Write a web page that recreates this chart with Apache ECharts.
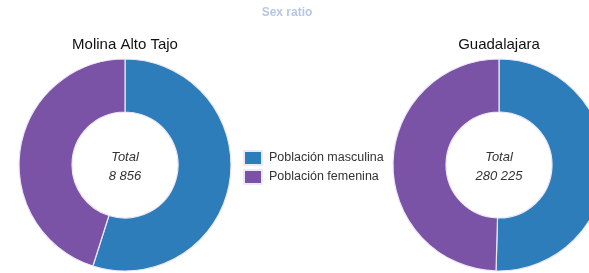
<!DOCTYPE html>
<html>
<head>
<meta charset="utf-8">
<script src="https://cdn.jsdelivr.net/npm/echarts@6/dist/echarts.min.js"></script>
<style>html,body{margin:0;padding:0;background:#fff}#c{width:589px;height:273px}</style>
</head>
<body>
<div id="c"></div>
<script>
const chartTitle = 'Sex ratio';
const categories = ['Población masculina', 'Población femenina'];
const regions = ['Molina Alto Tajo', 'Guadalajara'];
const molinaValues = [4862, 3994];
const guadalajaraValues = [141374, 138851];
const totalLabel = 'Total';

const colors = ['#2e7dbb', '#7a52a6'];
const fmt = n => String(n).replace(/\B(?=(\d{3})+(?!\d))/g, ' ');
const sum = a => a.reduce((x, y) => x + y, 0);

const chart = echarts.init(document.getElementById('c'), null, {renderer: 'canvas'});
const centers = [[125, 165], [499, 165]];
const allValues = [molinaValues, guadalajaraValues];

const series = allValues.map((vals, i) => ({
  type: 'pie',
  center: centers[i],
  radius: [53, 106],
  startAngle: 90,
  clockwise: true,
  silent: true,
  label: {show: false},
  labelLine: {show: false},
  itemStyle: {borderColor: '#ece8f6', borderWidth: 1.2},
  emphasis: {disabled: true},
  data: categories.map((c, k) => ({name: c, value: vals[k]}))
}));

const texts = [];
texts.push({type: 'text', x: 287, y: 13, style: {text: chartTitle, fill: '#b8c6e2', font: 'bold 12px "Liberation Sans", Arial, sans-serif', textAlign: 'center', textVerticalAlign: 'middle'}});
regions.forEach((r, i) => {
  texts.push({type: 'text', x: centers[i][0], y: 45, style: {text: r, fill: '#111', font: '15px "Liberation Sans", Arial, sans-serif', textAlign: 'center', textVerticalAlign: 'middle'}});
  texts.push({type: 'text', x: centers[i][0], y: 157, style: {text: totalLabel, fill: '#333', font: 'italic 13px "Liberation Sans", Arial, sans-serif', textAlign: 'center', textVerticalAlign: 'middle'}});
  texts.push({type: 'text', x: centers[i][0], y: 176, style: {text: fmt(sum(allValues[i])), fill: '#333', font: 'italic 13px "Liberation Sans", Arial, sans-serif', textAlign: 'center', textVerticalAlign: 'middle'}});
});

chart.setOption({
  animation: false,
  color: colors,
  legend: {
    orient: 'vertical',
    left: 243,
    top: 150,
    padding: 0,
    icon: 'rect',
    itemWidth: 18,
    itemHeight: 14,
    itemGap: 3,
    selectedMode: false,
    textStyle: {fontSize: 12.5, color: '#333', fontFamily: '"Liberation Sans", Arial, sans-serif', padding: [0, 0, 0, 2]},
    data: categories
  },
  graphic: texts,
  series: series
});
</script>
</body>
</html>
